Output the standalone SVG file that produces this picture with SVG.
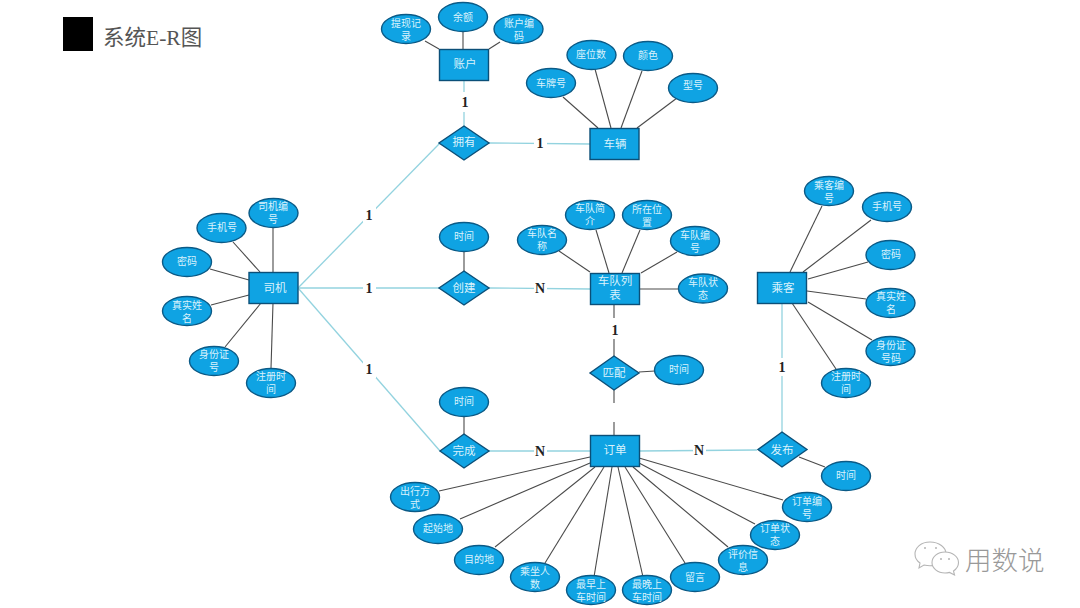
<svg xmlns="http://www.w3.org/2000/svg" width="1080" height="608" viewBox="0 0 1080 608">
<defs>
<style>
.e{fill:#0fa3e3;stroke:#0b5a86;stroke-width:1.4}
.r{fill:#0fa3e3;stroke:#0b4f78;stroke-width:1.4}
.t{font-family:"Noto Sans CJK SC","Noto Sans",sans-serif;font-size:10px;fill:#d9f2fc;text-anchor:middle}
.b{font-size:11.5px}
.k line{stroke:#4a4a4a;stroke-width:1.1}
.c line{stroke:#93d3df;stroke-width:1.3}
.g{fill:#fff}
.l{font-family:"Liberation Serif",serif;font-weight:bold;font-size:14px;fill:#222;text-anchor:middle}
.w{fill:#fff;stroke:#b5b5b5;stroke-width:1.1}
</style>
</defs>
<rect width="1080" height="608" fill="#fff"/>
<g id="title">
<rect x="63" y="17" width="30" height="34" fill="#000"/>
<text x="103" y="45" font-family="'Liberation Serif','Noto Sans CJK SC',serif" font-size="21.500" fill="#555">系统E-R图</text>
</g>
<g id="connectors">
<g class="k">
<line x1="425" y1="41" x2="439" y2="49"/><line x1="463" y1="32" x2="463" y2="49"/><line x1="500" y1="42" x2="489" y2="49"/>
<line x1="563" y1="97" x2="598" y2="128"/><line x1="595" y1="69" x2="611" y2="128"/><line x1="642" y1="71" x2="621" y2="128"/><line x1="677" y1="98" x2="637" y2="128"/>
<line x1="273" y1="228" x2="273" y2="272"/><line x1="233" y1="242" x2="260" y2="272"/><line x1="210" y1="269" x2="249" y2="280"/><line x1="211" y1="305" x2="249" y2="295"/><line x1="225" y1="347" x2="261" y2="303"/><line x1="271" y1="368" x2="273" y2="303"/>
<line x1="464" y1="252" x2="464" y2="271"/>
<line x1="559" y1="251" x2="590" y2="272"/><line x1="596" y1="230" x2="609" y2="273"/><line x1="640" y1="230" x2="622" y2="273"/><line x1="677" y1="252" x2="641" y2="273"/><line x1="639" y1="289" x2="679" y2="289"/>
<line x1="614" y1="304" x2="614" y2="318"/><line x1="614" y1="339" x2="614" y2="356"/><line x1="614" y1="390" x2="614" y2="403"/><line x1="614" y1="422" x2="614" y2="435"/>
<line x1="639" y1="372" x2="655" y2="371"/>
<line x1="464" y1="417" x2="464" y2="434"/>
<line x1="799" y1="457" x2="825" y2="467"/>
<line x1="822" y1="206" x2="790" y2="272"/><line x1="871" y1="220" x2="803" y2="272"/><line x1="868" y1="262" x2="808" y2="279"/><line x1="866" y1="299" x2="807" y2="291"/><line x1="872" y1="340" x2="808" y2="302"/><line x1="836" y1="369" x2="792" y2="303"/>
<line x1="439" y1="491" x2="590" y2="457"/><line x1="460" y1="519" x2="590" y2="463"/><line x1="495" y1="547" x2="595" y2="467"/><line x1="545" y1="563" x2="604" y2="467"/><line x1="594" y1="577" x2="612" y2="467"/><line x1="643" y1="577" x2="618" y2="467"/><line x1="685" y1="563" x2="625" y2="467"/><line x1="728" y1="547" x2="633" y2="467"/><line x1="755" y1="524" x2="639" y2="463"/><line x1="783" y1="500" x2="639" y2="458"/>
</g>
<g class="c">
<line x1="464" y1="80" x2="464" y2="126"/><line x1="489" y1="143" x2="590" y2="144"/>
<line x1="298" y1="288" x2="440" y2="143"/><line x1="298" y1="288" x2="439" y2="288"/><line x1="298" y1="288" x2="440" y2="451"/>
<line x1="489" y1="288" x2="590" y2="289"/><line x1="489" y1="451" x2="590" y2="451"/><line x1="639" y1="451" x2="757" y2="450"/>
<line x1="782" y1="303" x2="782" y2="433"/>
</g>
<rect class="g" x="458" y="92" width="14" height="20"/><text class="l" x="465" y="107">1</text>
<rect class="g" x="534" y="135" width="13" height="17"/><text class="l" x="540" y="148">1</text>
<rect class="g" x="363" y="207" width="13" height="17"/><text class="l" x="369" y="220">1</text>
<rect class="g" x="363" y="280" width="13" height="17"/><text class="l" x="369" y="293">1</text>
<rect class="g" x="363" y="361" width="13" height="17"/><text class="l" x="369" y="374">1</text>
<rect class="g" x="534" y="280" width="13" height="17"/><text class="l" x="540" y="293">N</text>
<rect class="g" x="534" y="443" width="13" height="17"/><text class="l" x="540" y="456">N</text>
<rect class="g" x="693" y="442" width="13" height="17"/><text class="l" x="699" y="455">N</text>
<text class="l" x="615" y="335">1</text>
<rect class="g" x="775" y="358" width="14" height="18"/><text class="l" x="782" y="372">1</text>
</g>
<g id="n-account"><rect class="r" x="439.500" y="49.500" width="49" height="31"/><text class="t b" x="465" y="68">账户</text></g>
<g id="n-a1"><ellipse class="e" cx="406" cy="29" rx="24.500" ry="14.500"/><text class="t" y="27"><tspan x="406">提现记</tspan><tspan x="406" dy="13">录</tspan></text></g>
<g id="n-a2"><ellipse class="e" cx="463" cy="17" rx="24.500" ry="14.500"/><text class="t" x="463" y="21">余额</text></g>
<g id="n-a3"><ellipse class="e" cx="518.500" cy="29" rx="24.500" ry="14.500"/><text class="t" y="27"><tspan x="519">账户编</tspan><tspan x="519" dy="13">码</tspan></text></g>
<g id="n-car"><rect class="r" x="590" y="128.500" width="49" height="31"/><text class="t b" x="615" y="148">车辆</text></g>
<g id="n-c1"><ellipse class="e" cx="551" cy="83" rx="24.500" ry="14.500"/><text class="t" x="551" y="87">车牌号</text></g>
<g id="n-c2"><ellipse class="e" cx="591.500" cy="55" rx="24.500" ry="14.500"/><text class="t" x="591" y="58">座位数</text></g>
<g id="n-c3"><ellipse class="e" cx="648" cy="56" rx="24.500" ry="14.500"/><text class="t" x="648" y="59">颜色</text></g>
<g id="n-c4"><ellipse class="e" cx="693" cy="88" rx="24.500" ry="14.500"/><text class="t" x="693" y="89">型号</text></g>
<g id="n-own"><polygon class="r" points="464,126 489,143 464,160 439,143"/><text class="t b" x="464" y="146">拥有</text></g>
<g id="n-driver"><rect class="r" x="249" y="272.500" width="49" height="31"/><text class="t b" x="275" y="292">司机</text></g>
<g id="n-d1"><ellipse class="e" cx="273.500" cy="213" rx="24.500" ry="14.500"/><text class="t" y="210"><tspan x="273">司机编</tspan><tspan x="273" dy="13">号</tspan></text></g>
<g id="n-d2"><ellipse class="e" cx="221.500" cy="228" rx="24.500" ry="14.500"/><text class="t" x="222" y="231">手机号</text></g>
<g id="n-d3"><ellipse class="e" cx="187" cy="262" rx="24.500" ry="14.500"/><text class="t" x="187" y="265">密码</text></g>
<g id="n-d4"><ellipse class="e" cx="187" cy="311" rx="24.500" ry="14.500"/><text class="t" y="309"><tspan x="187">真实姓</tspan><tspan x="187" dy="13">名</tspan></text></g>
<g id="n-d5"><ellipse class="e" cx="214" cy="361" rx="24.500" ry="14.500"/><text class="t" y="358"><tspan x="214">身份证</tspan><tspan x="214" dy="13">号</tspan></text></g>
<g id="n-d6"><ellipse class="e" cx="271" cy="383" rx="24.500" ry="14.500"/><text class="t" y="380"><tspan x="271">注册时</tspan><tspan x="271" dy="13">间</tspan></text></g>
<g id="n-create"><polygon class="r" points="464,271 489,288 464,305 439,288"/><text class="t b" x="464" y="292">创建</text></g>
<g id="n-ct"><ellipse class="e" cx="464" cy="237" rx="24.500" ry="14.500"/><text class="t" x="464" y="240">时间</text></g>
<g id="n-team"><rect class="r" x="590.500" y="273.500" width="49" height="31"/><text class="t b" y="285"><tspan x="615">车队列</tspan><tspan x="615" dy="14">表</tspan></text></g>
<g id="n-t1"><ellipse class="e" cx="542" cy="240" rx="24.500" ry="14.500"/><text class="t" y="237"><tspan x="542">车队名</tspan><tspan x="542" dy="13">称</tspan></text></g>
<g id="n-t2"><ellipse class="e" cx="590" cy="215" rx="24.500" ry="14.500"/><text class="t" y="212"><tspan x="590">车队简</tspan><tspan x="590" dy="13">介</tspan></text></g>
<g id="n-t3"><ellipse class="e" cx="647" cy="215" rx="24.500" ry="14.500"/><text class="t" y="213"><tspan x="647">所在位</tspan><tspan x="647" dy="13">置</tspan></text></g>
<g id="n-t4"><ellipse class="e" cx="695" cy="241" rx="24.500" ry="14.500"/><text class="t" y="239"><tspan x="695">车队编</tspan><tspan x="695" dy="13">号</tspan></text></g>
<g id="n-t5"><ellipse class="e" cx="703" cy="288.500" rx="24.500" ry="14.500"/><text class="t" y="286"><tspan x="703">车队状</tspan><tspan x="703" dy="13">态</tspan></text></g>
<g id="n-match"><polygon class="r" points="614,356 639,373 614,390 590,373"/><text class="t b" x="614" y="377">匹配</text></g>
<g id="n-mt"><ellipse class="e" cx="679" cy="370" rx="24.500" ry="14.500"/><text class="t" x="679" y="373">时间</text></g>
<g id="n-done"><polygon class="r" points="464,434 489,451 464,468 440,451"/><text class="t b" x="464" y="455">完成</text></g>
<g id="n-dt"><ellipse class="e" cx="464" cy="402" rx="24.500" ry="14.500"/><text class="t" x="464" y="405">时间</text></g>
<g id="n-order"><rect class="r" x="590.500" y="435.500" width="49" height="31"/><text class="t b" x="615" y="454">订单</text></g>
<g id="n-pub"><polygon class="r" points="782,432 807,449.500 782,467 758,449.500"/><text class="t b" x="782" y="454">发布</text></g>
<g id="n-pt"><ellipse class="e" cx="846" cy="476" rx="24.500" ry="14.500"/><text class="t" x="846" y="479">时间</text></g>
<g id="n-pass"><rect class="r" x="757.500" y="272.500" width="49" height="31"/><text class="t b" x="783" y="292">乘客</text></g>
<g id="n-p1"><ellipse class="e" cx="829" cy="191" rx="24.500" ry="14.500"/><text class="t" y="189"><tspan x="829">乘客编</tspan><tspan x="829" dy="13">号</tspan></text></g>
<g id="n-p2"><ellipse class="e" cx="887" cy="207" rx="24.500" ry="14.500"/><text class="t" x="887" y="210">手机号</text></g>
<g id="n-p3"><ellipse class="e" cx="890.500" cy="255" rx="24.500" ry="14.500"/><text class="t" x="891" y="258">密码</text></g>
<g id="n-p4"><ellipse class="e" cx="890.500" cy="303" rx="24.500" ry="14.500"/><text class="t" y="300"><tspan x="891">真实姓</tspan><tspan x="891" dy="13">名</tspan></text></g>
<g id="n-p5"><ellipse class="e" cx="890.500" cy="351" rx="24.500" ry="14.500"/><text class="t" y="349"><tspan x="891">身份证</tspan><tspan x="891" dy="13">号码</tspan></text></g>
<g id="n-p6"><ellipse class="e" cx="846" cy="383" rx="24.500" ry="14.500"/><text class="t" y="380"><tspan x="846">注册时</tspan><tspan x="846" dy="13">间</tspan></text></g>
<g id="n-o1"><ellipse class="e" cx="415" cy="497" rx="24.500" ry="14.500"/><text class="t" y="495"><tspan x="415">出行方</tspan><tspan x="415" dy="13">式</tspan></text></g>
<g id="n-o2"><ellipse class="e" cx="438" cy="529" rx="24.500" ry="14.500"/><text class="t" x="438" y="532">起始地</text></g>
<g id="n-o3"><ellipse class="e" cx="479" cy="560" rx="24.500" ry="14.500"/><text class="t" x="479" y="563">目的地</text></g>
<g id="n-o4"><ellipse class="e" cx="535" cy="577" rx="24.500" ry="14.500"/><text class="t" y="575"><tspan x="535">乘坐人</tspan><tspan x="535" dy="13">数</tspan></text></g>
<g id="n-o5"><ellipse class="e" cx="591" cy="590" rx="24.500" ry="14.500"/><text class="t" y="588"><tspan x="591">最早上</tspan><tspan x="591" dy="13">车时间</tspan></text></g>
<g id="n-o6"><ellipse class="e" cx="647" cy="590" rx="24.500" ry="14.500"/><text class="t" y="588"><tspan x="647">最晚上</tspan><tspan x="647" dy="13">车时间</tspan></text></g>
<g id="n-o7"><ellipse class="e" cx="695" cy="577" rx="24.500" ry="14.500"/><text class="t" x="695" y="581">留言</text></g>
<g id="n-o8"><ellipse class="e" cx="743" cy="560" rx="24.500" ry="14.500"/><text class="t" y="558"><tspan x="743">评价信</tspan><tspan x="743" dy="13">息</tspan></text></g>
<g id="n-o9"><ellipse class="e" cx="775" cy="535" rx="24.500" ry="14.500"/><text class="t" y="532"><tspan x="775">订单状</tspan><tspan x="775" dy="13">态</tspan></text></g>
<g id="n-o10"><ellipse class="e" cx="807" cy="507" rx="24.500" ry="14.500"/><text class="t" y="505"><tspan x="807">订单编</tspan><tspan x="807" dy="13">号</tspan></text></g>
<g id="watermark">
<path class="w" d="M930 542c-9 0-15 5.500-15 12 0 4 2 7 5 9l-1 5 5-3c2 .5 4 .8 6 .8 9 0 16-6 16-12 0-6.500-7-11.800-16-11.800z"/>
<path class="w" d="M945 552c-7.500 0-13 5-13 10.500s5.500 10.500 13 10.500c1.500 0 3-.2 4.500-.6l5 2.600-1-4c3-2 5-5 5-8.500 0-5.500-6-10.500-13.500-10.500z"/>
<g fill="#b5b5b5"><circle cx="925" cy="548" r="1"/><circle cx="936" cy="548" r="1"/><circle cx="941" cy="559" r="1"/><circle cx="949" cy="559" r="1"/></g>
<text x="965" y="570" font-family="'Noto Sans CJK SC',sans-serif" font-size="26.500" font-weight="300" fill="#999">用数说</text>
</g>
</svg>
